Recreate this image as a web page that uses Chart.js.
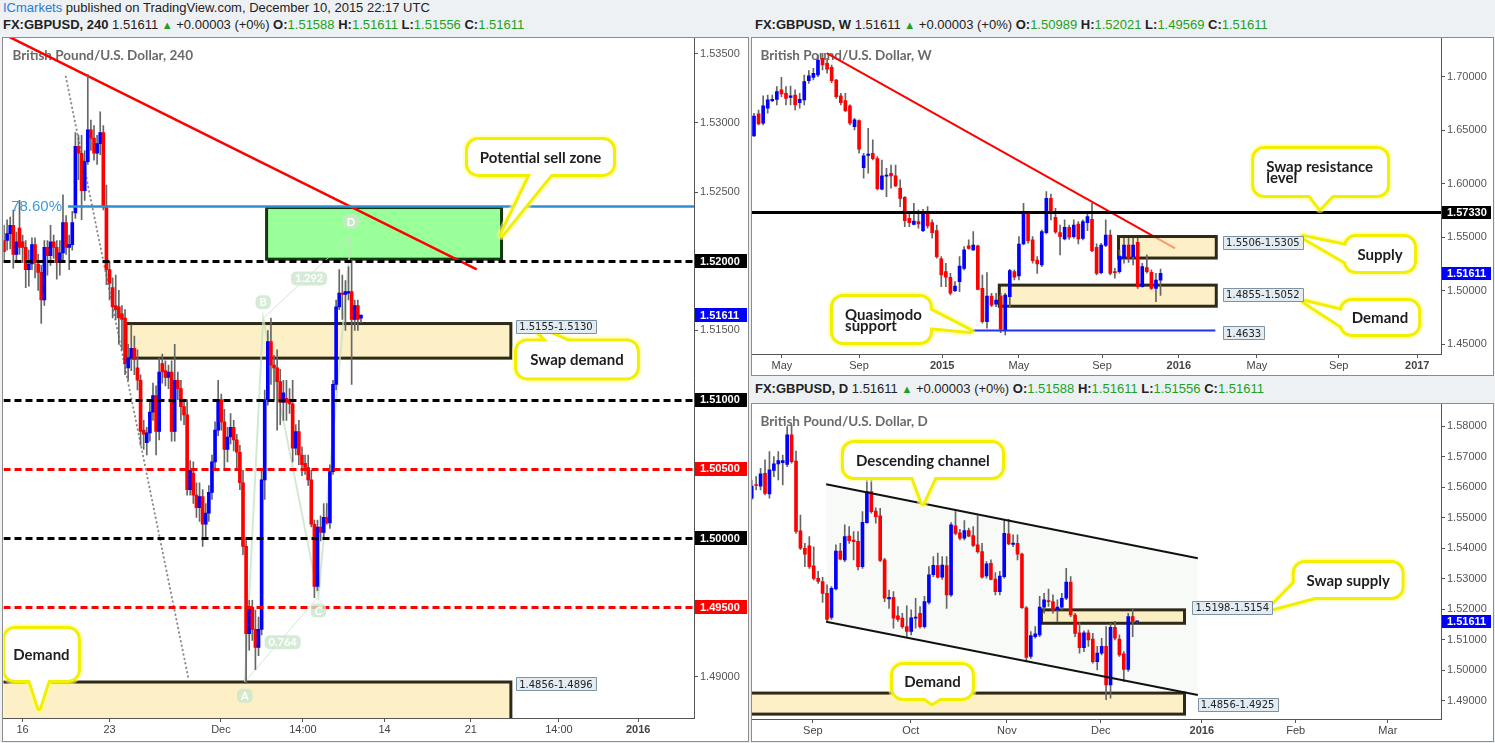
<!DOCTYPE html>
<html lang="en">
<head>
<meta charset="UTF-8">
<title>GBPUSD 240 / W / D</title>
<script src="https://cdn.jsdelivr.net/npm/chart.js@4.4.0/dist/chart.umd.min.js"></script>
<style>
  * { margin: 0; padding: 0; box-sizing: border-box; }
  body {
    width: 1495px; height: 743px; overflow: hidden; position: relative;
    background: #eef1f4; font-family: 'Liberation Sans', Arial, sans-serif;
  }
  .hdr { position: absolute; font-size: 13px; color: #222; white-space: nowrap; }
  .hdr .g { color: #23a023; }
  .hdr .up { color: #1f9e1f; font-size: 11px; }
  canvas { position: absolute; background: #fff; }
  .frame { position: absolute; border: 1px solid #8c8c8c; pointer-events: none; }
</style>
</head>
<body>
  <div class="hdr" style="left:3px;top:0px"><span style="color:#2a7bd1">ICmarkets</span> published on TradingView.com, December 10, 2015 22:17 UTC</div>
  <div class="hdr" style="left:3px;top:17px"><b>FX:GBPUSD, 240</b> 1.51611 <span class="up">▲</span> +0.00003 (+0%) <b>O:</b><span class="g">1.51588</span> <b>H:</b><span class="g">1.51611</span> <b>L:</b><span class="g">1.51556</span> <b>C:</b><span class="g">1.51611</span></div>
  <div class="hdr" style="left:755px;top:17px"><b>FX:GBPUSD, W</b> 1.51611 <span class="up">▲</span> +0.00003 (+0%) <b>O:</b><span class="g">1.50989</span> <b>H:</b><span class="g">1.52021</span> <b>L:</b><span class="g">1.49569</span> <b>C:</b><span class="g">1.51611</span></div>
  <div class="hdr" style="left:755px;top:381px"><b>FX:GBPUSD, D</b> 1.51611 <span class="up">▲</span> +0.00003 (+0%) <b>O:</b><span class="g">1.51588</span> <b>H:</b><span class="g">1.51611</span> <b>L:</b><span class="g">1.51556</span> <b>C:</b><span class="g">1.51611</span></div>

  <canvas id="h4" width="747" height="705" style="left:2px;top:37px"></canvas>
  <canvas id="wk" width="743" height="339" style="left:751px;top:37px"></canvas>
  <canvas id="dy" width="743" height="339" style="left:751px;top:403px"></canvas>
  <div class="frame" style="left:2px;top:37px;width:747px;height:705px"></div>
  <div class="frame" style="left:751px;top:37px;width:743px;height:339px"></div>
  <div class="frame" style="left:751px;top:403px;width:743px;height:339px"></div>

<script>
// ---- 4H candles (Nov 13 - Dec 10, 2015) ----
const h4Open = [1.5215,1.5215,1.5220,1.5226,1.5205,1.5224,1.5214,1.5210,1.5194,1.5198,
  1.5212,1.5198,1.5192,1.5172,1.5210,1.5204,1.5214,1.5210,1.5199,1.5206,
  1.5228,1.5210,1.5212,1.5235,1.5283,1.5278,1.5251,1.5272,1.5295,1.5289,
  1.5278,1.5285,1.5293,1.5240,1.5194,1.5181,1.5168,1.5167,1.5162,1.5159,
  1.5123,1.5130,1.5137,1.5123,1.5114,1.5078,1.5069,1.5076,1.5091,1.5103,
  1.5077,1.5126,1.5121,1.5116,1.5120,1.5077,1.5114,1.5108,1.5095,1.5089,
  1.5035,1.5047,1.5031,1.5022,1.5030,1.5010,1.5018,1.5033,1.5055,1.5078,
  1.5100,1.5084,1.5064,1.5073,1.5080,1.5071,1.5062,1.5040,1.4994,1.4931,
  1.4950,1.4934,1.4921,1.4934,1.5042,1.5100,1.5142,1.5125,1.5123,1.5113,
  1.5098,1.5101,1.5100,1.5097,1.5065,1.5077,1.5060,1.5054,1.5051,1.5042,
  1.5010,1.4965,1.5008,1.5004,1.5015,1.5011,1.5048,1.5111,1.5167,1.5177,
  1.5176,1.5177,1.5178,1.5158,1.5168,1.51588];
const h4High = [1.5226,1.5230,1.5232,1.5237,1.5221,1.5244,1.5219,1.5215,1.5208,1.5217,
  1.5217,1.5205,1.5197,1.5215,1.5215,1.5226,1.5219,1.5215,1.5215,1.5248,
  1.5233,1.5219,1.5236,1.5293,1.5291,1.5291,1.5280,1.5335,1.5302,1.5298,
  1.5291,1.5308,1.5298,1.5255,1.5200,1.5188,1.5190,1.5179,1.5168,1.5165,
  1.5140,1.5154,1.5146,1.5136,1.5118,1.5085,1.5080,1.5100,1.5112,1.5110,
  1.5130,1.5133,1.5128,1.5125,1.5128,1.5140,1.5120,1.5114,1.5100,1.5100,
  1.5056,1.5055,1.5040,1.5040,1.5035,1.5025,1.5038,1.5060,1.5084,1.5114,
  1.5104,1.5093,1.5080,1.5090,1.5085,1.5075,1.5067,1.5049,1.4999,1.4955,
  1.4955,1.4948,1.4943,1.5049,1.5107,1.5150,1.5159,1.5132,1.5136,1.5122,
  1.5114,1.5114,1.5108,1.5114,1.5082,1.5085,1.5066,1.5060,1.5060,1.5049,
  1.5013,1.5013,1.5016,1.5025,1.5025,1.5053,1.5114,1.5172,1.5194,1.5190,
  1.5186,1.5196,1.5201,1.5172,1.5172,1.51611];
const h4Low = [1.5199,1.5208,1.5209,1.5195,1.5199,1.5205,1.5199,1.5181,1.5182,1.5194,
  1.5188,1.5179,1.5155,1.5168,1.5190,1.5197,1.5202,1.5187,1.5190,1.5201,
  1.5205,1.5194,1.5208,1.5231,1.5259,1.5230,1.5244,1.5270,1.5280,1.5273,
  1.5270,1.5277,1.5237,1.5183,1.5172,1.5159,1.5158,1.5140,1.5136,1.5118,
  1.5114,1.5121,1.5118,1.5107,1.5067,1.5064,1.5060,1.5070,1.5085,1.5060,
  1.5071,1.5112,1.5110,1.5108,1.5070,1.5070,1.5100,1.5085,1.5082,1.5031,
  1.5031,1.5025,1.5015,1.5012,1.4994,1.5000,1.5012,1.5028,1.5050,1.5074,
  1.5078,1.5049,1.5055,1.5068,1.5063,1.5049,1.5035,1.4988,1.4895,1.4919,
  1.4926,1.4905,1.4915,1.4930,1.5028,1.5096,1.5111,1.5100,1.5078,1.5082,
  1.5085,1.5085,1.5090,1.5055,1.5060,1.5053,1.5045,1.5046,1.5038,1.5008,
  1.4957,1.4962,1.4998,1.4999,1.5010,1.5007,1.5046,1.5107,1.5165,1.5158,
  1.5150,1.5172,1.5111,1.5150,1.5150,1.51556];
const h4Close = [1.5207,1.5220,1.5226,1.5205,1.5214,1.5210,1.5210,1.5194,1.5198,1.5212,
  1.5199,1.5192,1.5172,1.5210,1.5204,1.5214,1.5210,1.5199,1.5206,1.5228,
  1.5210,1.5212,1.5228,1.5283,1.5278,1.5251,1.5272,1.5295,1.5289,1.5278,
  1.5285,1.5293,1.5240,1.5194,1.5184,1.5167,1.5165,1.5159,1.5158,1.5126,
  1.5130,1.5137,1.5129,1.5114,1.5077,1.5075,1.5076,1.5091,1.5103,1.5077,
  1.5120,1.5120,1.5116,1.5120,1.5077,1.5114,1.5108,1.5095,1.5089,1.5035,
  1.5049,1.5031,1.5022,1.5030,1.5010,1.5018,1.5033,1.5055,1.5078,1.5100,
  1.5084,1.5064,1.5073,1.5080,1.5071,1.5062,1.5040,1.4994,1.4931,1.4950,
  1.4934,1.4921,1.4934,1.5042,1.5100,1.5142,1.5125,1.5123,1.5113,1.5098,
  1.5105,1.5098,1.5097,1.5065,1.5077,1.5060,1.5053,1.5051,1.5042,1.5010,
  1.4965,1.5008,1.5004,1.5015,1.5011,1.5048,1.5111,1.5167,1.5177,1.5176,
  1.5178,1.5178,1.5158,1.5168,1.5158,1.51611];
const h4XTickPos = [6.0, 34.0, 69.9, 96.3, 122.6, 150.4, 178.8, 204.3];
const h4XTickLab = ['16', '23', 'Dec', '14:00', '14', '21', '14:00', '2016'];
const h4YTicks = [1.535, 1.530, 1.525, 1.515, 1.490];

// ---- weekly candles (Mar 2014 - Dec 2015) ----
const wkOpen = [1.6446,1.6651,1.6564,1.6704,1.6775,1.6787,1.6875,1.6844,1.6806,1.6828,
  1.6757,1.6782,1.6962,1.6993,1.7015,1.7170,1.7124,1.7087,1.6968,1.6819,
  1.6775,1.6726,1.6533,1.6589,1.6150,1.6264,1.6284,1.6234,1.5948,1.6069,
  1.6097,1.6072,1.5957,1.5872,1.5676,1.5620,1.5645,1.5561,1.5723,1.5636,
  1.5561,1.5297,1.5178,1.5126,1.5000,1.5085,1.5209,1.5418,1.5381,1.5418,
  1.5022,1.4711,1.4950,1.4875,1.4950,1.4634,1.4945,1.5178,1.5138,1.5436,
  1.5729,1.5474,1.5287,1.5240,1.5542,1.5862,1.5686,1.5542,1.5483,1.5592,
  1.5505,1.5623,1.5489,1.5636,1.5667,1.5405,1.5169,1.5424,1.5520,1.5178,
  1.5178,1.5303,1.5427,1.5318,1.5452,1.5038,1.5216,1.5172,1.5022,1.50989];
const wkHigh = [1.6657,1.6688,1.6819,1.6828,1.6828,1.6906,1.6993,1.6906,1.6912,1.6875,
  1.6844,1.7015,1.7055,1.7077,1.7202,1.7217,1.7170,1.7108,1.6975,1.6844,
  1.6844,1.6735,1.6610,1.6595,1.6284,1.6516,1.6408,1.6253,1.6221,1.6143,
  1.6174,1.6174,1.6035,1.5878,1.5739,1.5816,1.5754,1.5760,1.5785,1.5661,
  1.5614,1.5318,1.5256,1.5163,1.5085,1.5318,1.5412,1.5474,1.5552,1.5427,
  1.5147,1.5169,1.4975,1.4975,1.4975,1.4975,1.5200,1.5194,1.5505,1.5816,
  1.5738,1.5505,1.5318,1.5567,1.5925,1.5903,1.5770,1.5614,1.5661,1.5614,
  1.5661,1.5645,1.5661,1.5723,1.5816,1.5437,1.5443,1.5661,1.5567,1.5209,
  1.5380,1.5490,1.5490,1.5490,1.5490,1.5256,1.5334,1.5194,1.5162,1.52021];
const wkLow = [1.6440,1.6548,1.6548,1.6657,1.6766,1.6735,1.6813,1.6735,1.6735,1.6688,
  1.6704,1.6735,1.6937,1.6968,1.6999,1.7062,1.7031,1.6944,1.6797,1.6735,
  1.6673,1.6548,1.6501,1.6284,1.6050,1.6097,1.6221,1.5941,1.5941,1.5879,
  1.5957,1.5972,1.5785,1.5599,1.5599,1.5614,1.5583,1.5552,1.5583,1.5490,
  1.5303,1.5038,1.5038,1.4960,1.4991,1.4991,1.5194,1.5387,1.5375,1.5007,
  1.4696,1.4649,1.4851,1.4851,1.4609,1.4587,1.4851,1.5100,1.5100,1.5427,
  1.5443,1.5256,1.5162,1.5225,1.5530,1.5661,1.5536,1.5334,1.5474,1.5480,
  1.5490,1.5437,1.5474,1.5561,1.5365,1.5147,1.5156,1.5412,1.5147,1.5116,
  1.5163,1.5256,1.5265,1.5241,1.5022,1.5032,1.5163,1.5013,1.4898,1.49569];
const wkClose = [1.6632,1.6557,1.6726,1.6782,1.6787,1.6859,1.6837,1.6797,1.6819,1.6735,
  1.6787,1.6953,1.7006,1.7030,1.7155,1.7108,1.7068,1.6962,1.6813,1.6757,
  1.6682,1.6564,1.6595,1.6321,1.6259,1.6277,1.6234,1.5954,1.6072,1.6081,
  1.6072,1.5979,1.5863,1.5655,1.5636,1.5651,1.5623,1.5717,1.5605,1.5542,
  1.5318,1.5147,1.5126,1.4976,1.5044,1.5231,1.5381,1.5396,1.5427,1.5013,
  1.4711,1.4950,1.4866,1.4913,1.4640,1.4960,1.5187,1.5126,1.5436,1.5729,
  1.5468,1.5281,1.5250,1.5552,1.5862,1.5738,1.5548,1.5505,1.5592,1.5499,
  1.5614,1.5483,1.5645,1.5692,1.5374,1.5162,1.5427,1.5520,1.5162,1.5169,
  1.5324,1.5427,1.5303,1.5427,1.5038,1.5225,1.5178,1.5022,1.5100,1.51611];
const wkXTickPos = [6.1, 23.0, 41.2, 58.0, 76.2, 93.0, 110.1, 128.0, 145.2];
const wkXTickLab = ['May', 'Sep', '2015', 'May', 'Sep', '2016', 'May', 'Sep', '2017'];
const wkYTicks = [1.70, 1.65, 1.60, 1.55, 1.50, 1.45];

// ---- daily candles (Aug - Dec 2015) ----
const dyOpen = [1.5564,1.5609,1.5604,1.5646,1.5578,1.5655,1.5677,1.5681,1.5675,1.5772,
  1.5686,1.5457,1.5400,1.5408,1.5342,1.5301,1.5291,1.5252,1.5173,1.5267,
  1.5391,1.5362,1.5440,1.5427,1.5423,1.5340,1.5484,1.5586,1.5522,1.5506,
  1.5362,1.5234,1.5239,1.5178,1.5171,1.5143,1.5127,1.5171,1.5187,1.5143,
  1.5222,1.5313,1.5343,1.5305,1.5343,1.5247,1.5474,1.5451,1.5433,1.5458,
  1.5442,1.5411,1.5389,1.5309,1.5351,1.5299,1.5258,1.5307,1.5447,1.5413,
  1.5416,1.5381,1.5205,1.5045,1.5110,1.5116,1.5207,1.5228,1.5225,1.5198,
  1.5207,1.5236,1.5289,1.5181,1.5123,1.5074,1.5123,1.5102,1.5028,1.5056,
  1.5078,1.4952,1.5141,1.5102,1.5054,1.5003,1.5176,1.51588];
const dyHigh = [1.5624,1.5635,1.5662,1.5690,1.5717,1.5701,1.5717,1.5706,1.5799,1.5804,
  1.5719,1.5509,1.5416,1.5438,1.5405,1.5324,1.5305,1.5280,1.5274,1.5411,
  1.5416,1.5477,1.5471,1.5455,1.5455,1.5520,1.5624,1.5659,1.5533,1.5531,
  1.5367,1.5263,1.5258,1.5209,1.5187,1.5211,1.5198,1.5236,1.5209,1.5242,
  1.5340,1.5373,1.5384,1.5373,1.5373,1.5484,1.5520,1.5462,1.5491,1.5466,
  1.5471,1.5506,1.5416,1.5356,1.5362,1.5320,1.5324,1.5495,1.5495,1.5444,
  1.5444,1.5384,1.5209,1.5127,1.5143,1.5242,1.5252,1.5266,1.5247,1.5231,
  1.5252,1.5334,1.5307,1.5187,1.5156,1.5129,1.5132,1.5121,1.5078,1.5105,
  1.5143,1.5154,1.5160,1.5116,1.5061,1.5187,1.5200,1.51611];
const dyLow = [1.5559,1.5591,1.5591,1.5575,1.5564,1.5635,1.5624,1.5608,1.5668,1.5679,
  1.5449,1.5395,1.5340,1.5334,1.5296,1.5285,1.5222,1.5160,1.5167,1.5263,
  1.5362,1.5356,1.5416,1.5362,1.5329,1.5334,1.5482,1.5515,1.5482,1.5356,
  1.5225,1.5203,1.5138,1.5160,1.5138,1.5110,1.5116,1.5138,1.5138,1.5138,
  1.5217,1.5307,1.5302,1.5298,1.5203,1.5242,1.5444,1.5427,1.5427,1.5438,
  1.5405,1.5384,1.5302,1.5302,1.5296,1.5247,1.5247,1.5302,1.5411,1.5405,
  1.5362,1.5203,1.5028,1.5039,1.5105,1.5110,1.5187,1.5209,1.5187,1.5160,
  1.5198,1.5231,1.5176,1.5110,1.5056,1.5061,1.5078,1.5023,1.5001,1.5050,
  1.4903,1.4908,1.5099,1.5045,1.4963,1.4996,1.5110,1.51556];
const dyClose = [1.5604,1.5606,1.5644,1.5580,1.5657,1.5677,1.5688,1.5688,1.5772,1.5684,
  1.5455,1.5400,1.5381,1.5340,1.5301,1.5291,1.5252,1.5167,1.5269,1.5391,
  1.5364,1.5438,1.5425,1.5422,1.5340,1.5485,1.5586,1.5520,1.5504,1.5360,
  1.5236,1.5239,1.5171,1.5167,1.5143,1.5127,1.5172,1.5173,1.5143,1.5225,
  1.5313,1.5344,1.5305,1.5345,1.5247,1.5477,1.5449,1.5433,1.5458,1.5440,
  1.5409,1.5389,1.5305,1.5349,1.5298,1.5258,1.5309,1.5449,1.5414,1.5417,
  1.5381,1.5205,1.5042,1.5114,1.5119,1.5207,1.5231,1.5225,1.5198,1.5207,
  1.5236,1.5289,1.5181,1.5121,1.5074,1.5123,1.5099,1.5028,1.5056,1.5078,
  1.4952,1.5141,1.5105,1.5050,1.5003,1.5176,1.5160,1.51611];
const dyXTickPos = [13.8, 35.9, 57.6, 78.8, 101.6, 122.8, 143.6];
const dyXTickLab = ['Sep', 'Oct', 'Nov', 'Dec', '2016', 'Feb', 'Mar'];
const dyYTicks = [1.58, 1.57, 1.56, 1.55, 1.54, 1.53, 1.52, 1.51, 1.50, 1.49];

const lastPrice = 1.51611;

// ---- drawing helpers ----
const px = (c, v) => c.scales.x.getPixelForValue(v);
const py = (c, v) => c.scales.y.getPixelForValue(v);

function rrect(ctx, x, y, w, h, r) {
  ctx.beginPath();
  ctx.moveTo(x + r, y);
  ctx.arcTo(x + w, y, x + w, y + h, r);
  ctx.arcTo(x + w, y + h, x, y + h, r);
  ctx.arcTo(x, y + h, x, y, r);
  ctx.arcTo(x, y, x + w, y, r);
  ctx.closePath();
}

function drawZone(ctx, c, z) {
  const x1 = px(c, z.x1), x2 = px(c, z.x2), y1 = py(c, z.top), y2 = py(c, z.bottom);
  ctx.fillStyle = z.fill;
  ctx.fillRect(x1, y1, x2 - x1, y2 - y1);
  ctx.lineWidth = 3;
  ctx.strokeStyle = z.stroke;
  ctx.strokeRect(x1, y1, x2 - x1, y2 - y1);
}

function drawSeg(ctx, c, s) {
  ctx.beginPath();
  ctx.setLineDash(s.dash || []);
  ctx.lineCap = s.cap || 'butt';
  ctx.lineWidth = s.width;
  ctx.strokeStyle = s.color;
  ctx.moveTo(px(c, s.from[0]), py(c, s.from[1]));
  ctx.lineTo(px(c, s.to[0]), py(c, s.to[1]));
  ctx.stroke();
  ctx.setLineDash([]);
  ctx.lineCap = 'butt';
}

function drawHline(ctx, c, h) {
  const a = c.chartArea;
  const x1 = h.x1 === undefined ? a.left : px(c, h.x1);
  const x2 = h.x2 === undefined ? a.right : px(c, h.x2);
  const y = Math.round(py(c, h.p)) + 0.5;
  ctx.beginPath();
  ctx.setLineDash(h.dash || []);
  ctx.lineWidth = h.width;
  ctx.strokeStyle = h.color;
  ctx.moveTo(x1, y);
  ctx.lineTo(x2, y);
  ctx.stroke();
  ctx.setLineDash([]);
}

function drawRangeLabel(ctx, c, l) {
  ctx.font = '10px "DejaVu Sans"';
  const x = px(c, l.x), y = py(c, l.p);
  const w = ctx.measureText(l.text).width + 6;
  const bx = Math.round(x) + 0.5, by = Math.round(y - 6.5) + 0.5;
  ctx.fillStyle = '#e3ecf3';
  ctx.fillRect(bx, by, Math.round(w), 13);
  ctx.strokeStyle = '#7d93a3';
  ctx.lineWidth = 1;
  ctx.strokeRect(bx, by, Math.round(w), 13);
  ctx.fillStyle = '#222';
  ctx.textAlign = 'left';
  ctx.textBaseline = 'middle';
  ctx.fillText(l.text, x + 3, y + 1);
}

function drawCallout(ctx, c, b) {
  const x1 = px(c, b.box[0]), x2 = px(c, b.box[1]);
  const y1 = py(c, b.box[2]), y2 = py(c, b.box[3]);
  const t = b.tail.map(p => [px(c, p[0]), py(c, p[1])]);
  const tri = () => {
    ctx.beginPath();
    ctx.moveTo(t[0][0], t[0][1]);
    ctx.lineTo(t[1][0], t[1][1]);
    ctx.lineTo(t[2][0], t[2][1]);
    ctx.closePath();
  };
  ctx.lineJoin = 'round';
  [[10, 'rgba(255,255,140,0.55)'], [6, '#f4ee00']].forEach(([w, col]) => {
    ctx.lineWidth = w;
    ctx.strokeStyle = col;
    rrect(ctx, x1, y1, x2 - x1, y2 - y1, 10);
    ctx.stroke();
    tri();
    ctx.stroke();
  });
  ctx.fillStyle = '#fff';
  rrect(ctx, x1, y1, x2 - x1, y2 - y1, 10);
  ctx.fill();
  tri();
  ctx.fill();
  ctx.fillStyle = '#1e1e1e';
  ctx.font = 'bold 15px Lato';
  ctx.textBaseline = 'middle';
  const n = b.lines.length;
  b.lines.forEach((ln, i) => {
    const yy = (y1 + y2) / 2 + (i - (n - 1) / 2) * 11 + 1;
    if (b.left) {
      ctx.textAlign = 'left';
      ctx.fillText(ln, x1 + 12, yy);
    } else {
      ctx.textAlign = 'center';
      ctx.fillText(ln, (x1 + x2) / 2, yy);
    }
  });
}

function drawAxisBox(ctx, c, bx, h) {
  const a = c.chartArea;
  const y = py(c, bx.p);
  ctx.fillStyle = bx.color;
  ctx.fillRect(a.right + 1, Math.round(y - h / 2), bx.w, h);
  ctx.fillStyle = '#fff';
  ctx.font = 'bold 11px "Liberation Sans"';
  ctx.textAlign = 'left';
  ctx.textBaseline = 'middle';
  ctx.fillText(bx.p.toFixed(5), a.right + 6, y + 0.5);
}

function drawPattern(ctx, c, pt, labelsOnly) {
  const P = k => [px(c, pt[k][0]), py(c, pt[k][1])];
  if (!labelsOnly) {
    ctx.strokeStyle = 'rgba(196,226,196,0.75)';
    ctx.lineWidth = 2;
    ctx.beginPath();
    ['A', 'B', 'C', 'D'].forEach((k, i) => { const p = P(k); i ? ctx.lineTo(p[0], p[1]) : ctx.moveTo(p[0], p[1]); });
    ctx.stroke();
    ctx.lineWidth = 1;
    ctx.strokeStyle = 'rgba(196,226,196,0.8)';
    [['A', 'C'], ['B', 'D']].forEach(([u, v]) => {
      const p = P(u), q = P(v);
      ctx.beginPath(); ctx.moveTo(p[0], p[1]); ctx.lineTo(q[0], q[1]); ctx.stroke();
    });
    return;
  }
  ctx.font = 'bold 11px Lato';
  ctx.textAlign = 'center';
  ctx.textBaseline = 'middle';
  const tag = (txt, x, y) => {
    const w = ctx.measureText(txt).width + 8;
    ctx.fillStyle = 'rgba(204,230,204,0.8)';
    rrect(ctx, x - w / 2, y - 7, w, 14, 5);
    ctx.fill();
    ctx.fillStyle = '#fff';
    ctx.fillText(txt, x, y + 0.5);
  };
  const off = { A: 14, B: -16, C: 14, D: -15 };
  ['A', 'B', 'C', 'D'].forEach(k => { const p = P(k); tag(k, p[0], p[1] + off[k]); });
  const A = P('A'), B = P('B'), C = P('C'), D = P('D');
  tag(pt.ratios[0], (A[0] + C[0]) / 2 + 1, (A[1] + C[1]) / 2 + 3);
  tag(pt.ratios[1], (B[0] + D[0]) / 2 + 2, (B[1] + D[1]) / 2 + 1);
}

function overlay(cfg) {
  return {
    id: 'overlay',
    beforeDatasetsDraw(c) {
      const ctx = c.ctx, a = c.chartArea;
      ctx.save();
      ctx.beginPath();
      ctx.rect(a.left, a.top, a.right - a.left, a.bottom - a.top);
      ctx.clip();
      ctx.font = 'bold 13.5px Lato';
      ctx.fillStyle = '#6a6a6a';
      ctx.textAlign = 'left';
      ctx.textBaseline = 'middle';
      ctx.fillText(cfg.title, a.left + 9, a.top + 18);
      if (cfg.channel) {
        const ch = cfg.channel;
        ctx.fillStyle = 'rgba(240,245,240,0.45)';
        ctx.beginPath();
        ctx.moveTo(px(c, ch.up[0][0]), py(c, ch.up[0][1]));
        ctx.lineTo(px(c, ch.up[1][0]), py(c, ch.up[1][1]));
        ctx.lineTo(px(c, ch.lo[1][0]), py(c, ch.lo[1][1]));
        ctx.lineTo(px(c, ch.lo[0][0]), py(c, ch.lo[0][1]));
        ctx.closePath();
        ctx.fill();
      }
      if (cfg.segsUnderZones) (cfg.segs || []).forEach(s => drawSeg(ctx, c, s));
      (cfg.zones || []).forEach(z => drawZone(ctx, c, z));
      if (!cfg.segsUnderZones) (cfg.segs || []).forEach(s => drawSeg(ctx, c, s));
      if (cfg.pattern) drawPattern(ctx, c, cfg.pattern, false);
      ctx.restore();
    },
    afterDatasetsDraw(c) {
      const ctx = c.ctx, a = c.chartArea;
      ctx.save();
      ctx.beginPath();
      ctx.rect(a.left, a.top, a.right - a.left, a.bottom - a.top);
      ctx.clip();
      if (cfg.channel) {
        drawSeg(ctx, c, { from: cfg.channel.up[0], to: cfg.channel.up[1], color: '#111', width: 2 });
        drawSeg(ctx, c, { from: cfg.channel.lo[0], to: cfg.channel.lo[1], color: '#111', width: 2 });
      }
      (cfg.hlines || []).forEach(h => drawHline(ctx, c, h));
      if (cfg.fibText) {
        ctx.font = '15px "Liberation Sans"';
        ctx.fillStyle = '#3c9ad8';
        ctx.textAlign = 'right';
        ctx.textBaseline = 'middle';
        ctx.fillText(cfg.fibText.text, px(c, cfg.fibText.x), py(c, cfg.fibText.p) + 1);
      }
      if (cfg.pattern) drawPattern(ctx, c, cfg.pattern, true);
      (cfg.callouts || []).forEach(b => drawCallout(ctx, c, b));
      (cfg.rangeLabels || []).forEach(l => drawRangeLabel(ctx, c, l));
      ctx.restore();
    },
    afterDraw(c) {
      const ctx = c.ctx;
      ctx.save();
      (cfg.axisBoxes || []).forEach(bx => drawAxisBox(ctx, c, bx, cfg.boxH));
      ctx.restore();
    }
  };
}

function makeChart(id, d, cfg) {
  const idx = d.open.map((_, i) => i);
  const wicks = idx.map(i => ({ x: i, y: [d.low[i], d.high[i]] }));
  const bodies = idx.map(i => ({ x: i, y: [d.open[i], d.close[i]] }));
  const colors = idx.map(i => d.close[i] >= d.open[i] ? '#0000ff' : '#ff0000');
  const tickFont = { family: '"Liberation Sans", Arial, sans-serif', size: 11 };
  return new Chart(document.getElementById(id), {
    type: 'bar',
    data: {
      datasets: [
        { data: wicks, backgroundColor: '#666', barThickness: 1, grouped: false, order: 2 },
        { data: bodies, backgroundColor: colors, barThickness: 3, grouped: false, minBarLength: 1, order: 1 }
      ]
    },
    options: {
      responsive: false,
      animation: false,
      events: [],
      layout: { padding: cfg.padding },
      plugins: { legend: { display: false }, tooltip: { enabled: false } },
      scales: {
        x: {
          type: 'linear', min: cfg.xMin, max: cfg.xMax, offset: false,
          grid: { display: true, drawOnChartArea: false, tickLength: 4, color: '#555', offset: false },
          border: { display: true, color: '#555' },
          ticks: {
            autoSkip: false, maxRotation: 0, padding: 1, color: '#444',
            font: ctx => ({ ...tickFont, weight: /^\d{4}$/.test(d.xLab[ctx.index] || '') ? 'bold' : 'normal' }),
            callback: (v, i) => d.xLab[i]
          },
          afterBuildTicks: s => { s.ticks = d.xPos.map(v => ({ value: v })); },
          afterFit: s => { s.height = cfg.xH; s.paddingLeft = 0; s.paddingRight = 0; }
        },
        y: {
          type: 'linear', position: 'right', min: cfg.yMin, max: cfg.yMax,
          grid: { display: true, drawOnChartArea: false, tickLength: 4, color: '#555' },
          border: { display: true, color: '#555' },
          ticks: { padding: 2, color: '#555', font: tickFont, callback: v => v.toFixed(5) },
          afterBuildTicks: s => { s.ticks = d.yTicks.map(v => ({ value: v })); },
          afterFit: s => { s.width = cfg.yW; s.paddingTop = 0; s.paddingBottom = 0; }
        }
      }
    },
    plugins: [overlay(cfg)]
  });
}

const tan = 'rgba(252,232,168,0.65)';
const tanEdge = '#2f2a17';

// ---- 4H chart ----
makeChart('h4', { open: h4Open, high: h4High, low: h4Low, close: h4Close, xPos: h4XTickPos, xLab: h4XTickLab, yTicks: h4YTicks }, {
  title: 'British Pound/U.S. Dollar, 240',
  padding: { left: 1.5, top: 1, right: 0, bottom: 0 }, xH: 24, yW: 55,
  xMin: -0.16, xMax: 222.3, yMin: 1.48700, yMax: 1.53613,
  zones: [
    { x1: 84.6, x2: 160.3, top: 1.52388, bottom: 1.52015, fill: '#99ff99', stroke: '#123812' },
    { x1: 39.3, x2: 163.3, top: 1.5155, bottom: 1.5130, fill: tan, stroke: tanEdge },
    { x1: -2, x2: 163.3, top: 1.4896, bottom: 1.4856, fill: tan, stroke: tanEdge }
  ],
  segs: [
    { from: [-2, 1.53662], to: [152.3, 1.51942], color: '#ff0000', width: 2.5 },
    { from: [19.9, 1.53334], to: [59.4, 1.48987], color: '#8a8a8a', width: 2, dash: [0.5, 4], cap: 'round' }
  ],
  hlines: [
    { p: 1.5240, x1: 20.6, color: '#2e8fd0', width: 2.5 },
    { p: 1.5200, color: '#000', width: 3, dash: [7, 4] },
    { p: 1.5100, color: '#000', width: 3, dash: [7, 4] },
    { p: 1.5050, color: '#ff0000', width: 3, dash: [7, 4] },
    { p: 1.5000, color: '#000', width: 3, dash: [7, 4] },
    { p: 1.4950, color: '#ff0000', width: 3, dash: [7, 4] }
  ],
  fibText: { text: '78.60%', x: 18.7, p: 1.5240 },
  rangeLabels: [
    { text: '1.5155-1.5130', x: 165.0, p: 1.5153 },
    { text: '1.4856-1.4896', x: 165.0, p: 1.48946 }
  ],
  pattern: {
    A: [77.6, 1.48962], B: [83.5, 1.51588], C: [101.3, 1.49577], D: [111.8, 1.52178],
    ratios: ['0.764', '1.292']
  },
  callouts: [
    { box: [149.5, 196.2, 1.52876, 1.52631], tail: [[160.3, 1.52190], [169.8, 1.52631], [176.2, 1.52631]], lines: ['Potential sell zone'] },
    { box: [165.3, 203.9, 1.51421, 1.51161], tail: [[170.1, 1.51538], [175.3, 1.51421], [181.7, 1.51421]], lines: ['Swap demand'] },
    { box: [0.3, 23.8, 1.49343, 1.48975], tail: [[11.3, 1.48772], [8.4, 1.48975], [14.2, 1.48975]], lines: ['Demand'] }
  ],
  boxH: 14,
  axisBoxes: [
    { p: 1.5200, color: '#000', w: 52 }, { p: 1.5100, color: '#000', w: 52 },
    { p: 1.5050, color: '#ff0000', w: 52 }, { p: 1.5000, color: '#000', w: 52 },
    { p: 1.4950, color: '#ff0000', w: 52 }, { p: lastPrice, color: '#0000ff', w: 52 }
  ]
});

// ---- weekly chart ----
makeChart('wk', { open: wkOpen, high: wkHigh, low: wkLow, close: wkClose, xPos: wkXTickPos, xLab: wkXTickLab, yTicks: wkYTicks }, {
  title: 'British Pound/U.S. Dollar, W',
  padding: { left: 0.5, top: 1, right: 0, bottom: 0 }, xH: 22, yW: 53,
  xMin: -0.55, xMax: 150.4, yMin: 1.44088, yMax: 1.73602,
  segsUnderZones: true,
  segs: [ { from: [15.9, 1.7219], to: [92.2, 1.5396], color: '#ff0000', width: 2 } ],
  zones: [
    { x1: 79.8, x2: 101.2, top: 1.5506, bottom: 1.5305, fill: tan, stroke: tanEdge },
    { x1: 53.7, x2: 101.2, top: 1.5052, bottom: 1.4855, fill: tan, stroke: tanEdge }
  ],
  hlines: [
    { p: 1.5733, color: '#000', width: 3 },
    { p: 1.4633, x1: 46.9, x2: 101.0, color: '#2233ee', width: 2 }
  ],
  rangeLabels: [
    { text: '1.5506-1.5305', x: 102.7, p: 1.5450 },
    { text: '1.4855-1.5052', x: 102.7, p: 1.4969 },
    { text: '1.4633', x: 102.7, p: 1.4605 }
  ],
  callouts: [
    { box: [109.5, 138.6, 1.63235, 1.58938], tail: [[123.9, 1.57724], [121.7, 1.58938], [126.6, 1.58938]], lines: ['Swap resistance', 'level'], left: true },
    { box: [129.6, 144.5, 1.55016, 1.51840], tail: [[120.2, 1.55016], [129.6, 1.54175], [129.6, 1.52681]], lines: ['Supply'] },
    { box: [128.7, 145.4, 1.49038, 1.45956], tail: [[120.6, 1.48945], [128.7, 1.48104], [128.7, 1.46703]], lines: ['Demand'] },
    { box: [17.3, 38.5, 1.49411, 1.45208], tail: [[47.3, 1.46236], [38.5, 1.48182], [38.5, 1.46595]], lines: ['Quasimodo', 'support'], left: true }
  ],
  boxH: 13,
  axisBoxes: [ { p: 1.5733, color: '#000', w: 49 }, { p: lastPrice, color: '#0000ff', w: 49 } ]
});

// ---- daily chart ----
makeChart('dy', { open: dyOpen, high: dyHigh, low: dyLow, close: dyClose, xPos: dyXTickPos, xLab: dyXTickLab, yTicks: dyYTicks }, {
  title: 'British Pound/U.S. Dollar, D',
  padding: { left: 0.5, top: 1, right: 0, bottom: 0 }, xH: 23, yW: 53,
  xMin: -0.05, xMax: 155.6, yMin: 1.48400, yMax: 1.58732,
  channel: { up: [[16.8, 1.5610], [100.7, 1.5367]], lo: [[16.8, 1.5159], [100.7, 1.4919]] },
  zones: [
    { x1: 65.4, x2: 97.7, top: 1.5198, bottom: 1.5154, fill: tan, stroke: tanEdge },
    { x1: -2, x2: 97.7, top: 1.4925, bottom: 1.4856, fill: tan, stroke: tanEdge }
  ],
  rangeLabels: [
    { text: '1.5198-1.5154', x: 99.5, p: 1.5206 },
    { text: '1.4856-1.4925', x: 100.7, p: 1.4889 }
  ],
  callouts: [
    { box: [20.8, 56.5, 1.57453, 1.56338], tail: [[38.6, 1.55485], [36.4, 1.56338], [41.3, 1.56338]], lines: ['Descending channel'] },
    { box: [31.9, 49.7, 1.50171, 1.49089], tail: [[40.7, 1.48925], [39.1, 1.49089], [42.5, 1.49089]], lines: ['Demand'] },
    { box: [122.6, 146.7, 1.53517, 1.52401], tail: [[116.9, 1.52008], [122.6, 1.52861], [127.1, 1.52401]], lines: ['Swap supply'] }
  ],
  boxH: 13,
  axisBoxes: [ { p: lastPrice, color: '#0000ff', w: 49 } ]
});
</script>
</body>
</html>
